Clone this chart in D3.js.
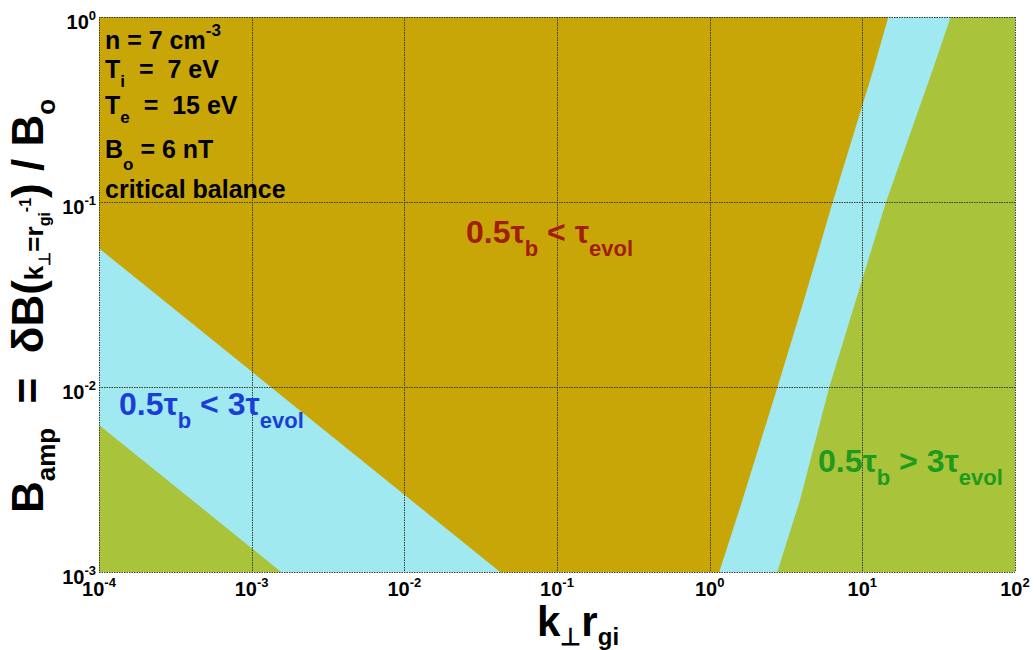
<!DOCTYPE html>
<html>
<head>
<meta charset="utf-8">
<script src="https://cdn.jsdelivr.net/npm/d3@7"></script>
<style>
  body { margin: 0; background: #fff; }
  text { font-family: "Liberation Sans", Arial, sans-serif; font-weight: bold; white-space: pre; }
</style>
</head>
<body>
<script>
const width = 1034, height = 650
const margin = {left: 99, right: 19, top: 17, bottom: 78}

// axis decades
const kTicks = [1e-4, 1e-3, 1e-2, 1e-1, 1e0, 1e1, 1e2]
const bTicks = [1e-3, 1e-2, 1e-1, 1e0]

// region boundaries [k, B]
const leftUpper = [[1e-4, 0.0562], [0.0424, 1e-3]]   // gold | cyan
const leftLower = [[1e-4, 0.00624], [0.00156, 1e-3]] // cyan | green
const rightInner = [[14.8, 1], [11.8, 0.518], [6.40, 0.1], [4.15, 0.0295], [2.77, 0.00989], [1.64, 0.00245], [1.156, 0.001]]
const rightOuter = [[37.9, 1], [28.9, 0.518], [14.3, 0.1], [9.08, 0.0295], [6.05, 0.00989], [3.91, 0.00245], [2.77, 0.001]]

const gold = '#c9a608', cyan = '#a0e9f1', green = '#a9c33b'

const svg = d3.select('body').append('svg').attr('width', width).attr('height', height)

const x = d3.scaleLog().domain([1e-4, 1e2]).range([margin.left, width - margin.right])
const y = d3.scaleLog().domain([1e-3, 1e0]).range([height - margin.bottom, margin.top])

svg.append('clipPath').attr('id', 'plot')
    .append('rect').attr('x', x(1e-4)).attr('y', y(1)).attr('width', x(1e2) - x(1e-4)).attr('height', y(1e-3) - y(1))

const g = svg.append('g').attr('clip-path', 'url(#plot)')
const line = d3.line().x(d => x(d[0])).y(d => y(d[1]))

// background: 0.5 tau_b < tau_evol
g.append('rect').attr('x', x(1e-4)).attr('y', y(1)).attr('width', x(1e2) - x(1e-4)).attr('height', y(1e-3) - y(1)).attr('fill', gold)

// cyan and green wedges
g.append('path').attr('d', line([...leftUpper, [1e-4, 1e-3]]) + 'Z').attr('fill', cyan)
g.append('path').attr('d', line([...leftLower, [1e-4, 1e-3]]) + 'Z').attr('fill', green)
g.append('path').attr('d', line([...rightInner, [1e2, 1e-3], [1e2, 1]]) + 'Z').attr('fill', cyan)
g.append('path').attr('d', line([...rightOuter, [1e2, 1e-3], [1e2, 1]]) + 'Z').attr('fill', green)

// dotted grid at each decade
const grid = svg.append('g').attr('stroke', '#3a3a2a').attr('stroke-width', 1).attr('stroke-dasharray', '1.5,1')
grid.selectAll('.vx').data(kTicks).join('line')
    .attr('x1', d => Math.round(x(d)) + .5).attr('x2', d => Math.round(x(d)) + .5)
    .attr('y1', y(1)).attr('y2', y(1e-3))
grid.selectAll('.hy').data(bTicks).join('line')
    .attr('y1', d => Math.round(y(d)) + .5).attr('y2', d => Math.round(y(d)) + .5)
    .attr('x1', x(1e-4)).attr('x2', x(1e2))

const exp = d => Math.round(Math.log10(d))

// tick labels 10^n
const xl = svg.append('g').selectAll('text').data(kTicks).join('text')
    .attr('x', d => x(d)).attr('y', y(1e-3) + 24).attr('text-anchor', 'middle').attr('font-size', 20)
xl.append('tspan').text('10')
xl.append('tspan').attr('dy', -9).attr('font-size', 13).text(d => exp(d))

const yl = svg.append('g').selectAll('text').data(bTicks).join('text')
    .attr('x', x(1e-4) - 3).attr('y', d => y(d) + 12).attr('text-anchor', 'end').attr('font-size', 20)
yl.append('tspan').text('10')
yl.append('tspan').attr('dy', -9).attr('font-size', 13).text(d => exp(d))

// helper for text made of runs [string, size, dy]
function rich(sel, parts) {
    parts.forEach(([s, size, dy]) => sel.append('tspan').attr('font-size', size).attr('dy', dy || 0).text(s))
    return sel
}

// x title
rich(svg.append('text').attr('x', 537).attr('y', 636), [
    ['k', 42], ['⊥', 24, 9], ['r', 42, -9], ['gi', 24, 9]
])

// y title
rich(svg.append('text').attr('transform', 'translate(43,306) rotate(-90)').attr('text-anchor', 'middle'), [
    ['B', 44], ['amp', 26, 12], ['  =  δB(', 44, -12], ['k', 26], ['⊥', 16, 7], ['=r', 26, -7],
    ['gi', 16, 7], ['-1', 16, -19], [')', 44, 12], [' / B', 44], ['o', 26, 12]
])

// parameter box
const fs = 25, sub = 17
const info = svg.append('g')
rich(info.append('text').attr('x', 105).attr('y', 49), [['n = 7 cm', fs], ['-3', sub, -13]])
rich(info.append('text').attr('x', 105).attr('y', 78), [['T', fs], ['i', sub, 9], ['  =  7 eV', fs, -9]])
rich(info.append('text').attr('x', 105).attr('y', 114), [['T', fs], ['e', sub, 9], ['  =  15 eV', fs, -9]])
rich(info.append('text').attr('x', 105).attr('y', 158), [['B', fs], ['o', sub, 12], [' = 6 nT', fs, -12]])
rich(info.append('text').attr('x', 105).attr('y', 198), [['critical balance', fs]])

// region labels
rich(svg.append('text').attr('x', 466).attr('y', 243).attr('fill', '#a01e0a'), [
    ['0.5τ', 32], ['b', 22, 13], [' < τ', 32, -13], ['evol', 22, 13]
])
rich(svg.append('text').attr('x', 119).attr('y', 415).attr('fill', '#1b3fd6'), [
    ['0.5τ', 32], ['b', 22, 13], [' < 3τ', 32, -13], ['evol', 22, 13]
])
rich(svg.append('text').attr('x', 818).attr('y', 472).attr('fill', '#1f9a1e'), [
    ['0.5τ', 32], ['b', 22, 13], [' > 3τ', 32, -13], ['evol', 22, 13]
])
</script>
</body>
</html>
